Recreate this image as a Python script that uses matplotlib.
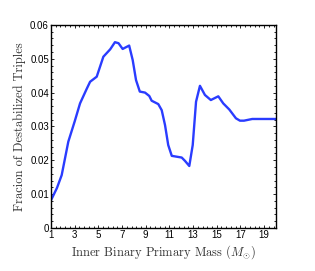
import numpy as np
import matplotlib
matplotlib.use('Agg')
import matplotlib.pyplot as plt
from matplotlib.ticker import AutoMinorLocator

# values
mass = [1.0, 1.5, 1.9, 2.46, 3.0, 3.45, 4.0, 4.3, 4.86, 5.42, 6.0, 6.4, 6.7,
        7.05, 7.6, 7.9, 8.18, 8.5, 8.94, 9.3, 9.5, 10.06, 10.35, 10.63, 10.9,
        11.2, 12.04, 12.32, 12.68, 12.97, 13.25, 13.58, 14.0, 14.5, 15.13,
        15.55, 16.06, 16.62, 16.96, 17.3, 18.0, 19.0, 20.0]
frac = [0.0082, 0.0118, 0.0156, 0.0255, 0.0315, 0.0368, 0.041, 0.0432,
        0.0447, 0.0506, 0.0528, 0.0549, 0.0546, 0.0529, 0.0539, 0.0496,
        0.0437, 0.0403, 0.0400, 0.0390, 0.0376, 0.0366, 0.0348, 0.0304,
        0.0245, 0.0213, 0.0208, 0.0198, 0.0183, 0.0245, 0.0373, 0.0420,
        0.0393, 0.0378, 0.0389, 0.0368, 0.0350, 0.0324, 0.0317, 0.0317,
        0.0322, 0.0322, 0.0322]
xticks = [1, 3, 5, 7, 9, 11, 13, 15, 17, 19]
yticks = [0, 0.01, 0.02, 0.03, 0.04, 0.05, 0.06]
ylabels = ['0', '0.01', '0.02', '0.03', '0.04', '0.05', '0.06']

plt.rcParams['mathtext.fontset'] = 'cm'

fig = plt.figure(figsize=(3.15, 2.71), dpi=100)
ax = fig.add_axes([0.162, 0.159, 0.714, 0.749])
ax.plot(mass, frac, color='#2a3cff', lw=1.7)

ax.set_xlim(1, 20)
ax.set_ylim(0, 0.06)
ax.set_xticks(xticks)
ax.set_yticks(yticks)
ax.set_yticklabels(ylabels)
ax.xaxis.set_minor_locator(AutoMinorLocator(5))
ax.yaxis.set_minor_locator(AutoMinorLocator(5))
ax.tick_params(which='both', direction='in', top=True, right=True,
               labelsize=7, pad=1.5, width=0.6)
ax.tick_params(which='major', length=2.5)
ax.tick_params(which='minor', length=1.2)
for lab in ax.get_xticklabels() + ax.get_yticklabels():
    lab.set_family('Liberation Sans')
for sp in ax.spines.values():
    sp.set_linewidth(1.0)

ax.set_xlabel(r'Inner Binary Primary Mass ($M_{\odot}$)', family='cmr10',
              fontsize=9, color='#333333', labelpad=2)
ax.set_ylabel('Fracion of Destabilized Triples', family='cmr10',
              fontsize=9, color='#333333', labelpad=3)

fig.savefig('out.png', dpi=100)
